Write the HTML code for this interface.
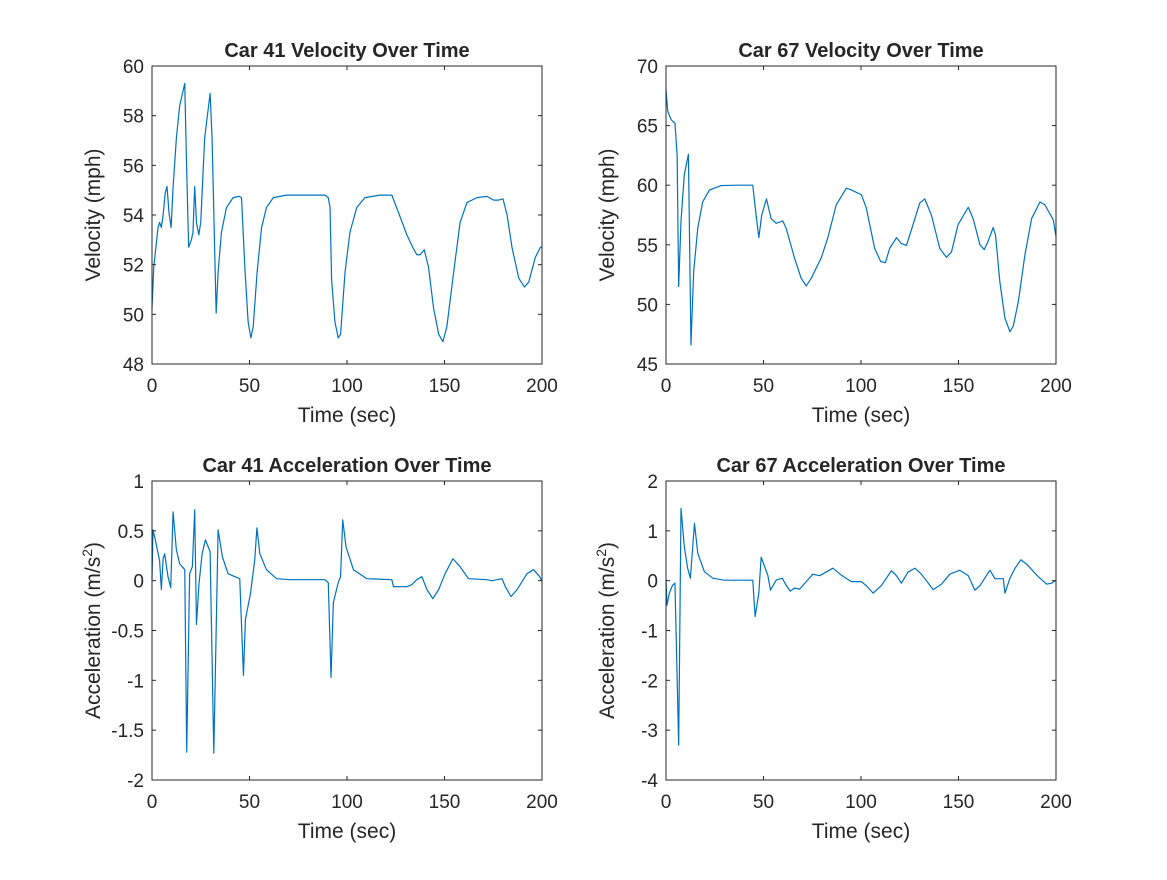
<!DOCTYPE html>
<html><head><meta charset="utf-8"><style>
html,body{margin:0;padding:0;background:#fff;}
svg text{font-family:"Liberation Sans",Arial,sans-serif;fill:#262626;}
</style></head><body>
<svg id="fig" width="1167" height="875" xmlns="http://www.w3.org/2000/svg"></svg>
<script>
const timeTicks=[0,50,100,150,200];
const v41Ticks=[48,50,52,54,56,58,60];
const v67Ticks=[45,50,55,60,65,70];
const a41Ticks=[-2,-1.5,-1,-0.5,0,0.5,1];
const a67Ticks=[-4,-3,-2,-1,0,1,2];

const v41T=[0,0.9,3.1,3.9,4.8,5.7,6.8,7.7,8.7,9.8,10.8,12.5,14.2,16.8,17.6,18.8,20.2,21,21.9,22.8,24,25,27,29.8,30.8,32.9,33.9,35.6,38.2,41.6,44.7,45.9,47.6,49.3,50.7,51.9,53.9,56.2,58.7,62.2,69,79.3,88.7,90.4,91.3,92.1,93.8,95.5,96.7,99,101.5,105,109.2,117,123,126.4,130.7,133.7,135.8,137.5,139.6,141.8,144.4,147,149.2,151.2,154.7,158,161.5,166.7,171.8,175.2,177.8,180,182.1,184.6,188.1,191,193.2,196.6,199.2,200];
const v41V=[50.25,51.9,53.5,53.7,53.5,54.0,54.9,55.15,54.1,53.5,55.1,57.1,58.4,59.3,56.4,52.7,53.0,53.3,55.15,53.7,53.2,53.7,57.1,58.9,57.1,50.05,51.7,53.3,54.3,54.7,54.75,54.7,51.9,49.7,49.05,49.5,51.7,53.5,54.3,54.7,54.8,54.8,54.8,54.7,54.3,51.4,49.7,49.05,49.2,51.7,53.3,54.3,54.7,54.8,54.8,54.1,53.2,52.7,52.4,52.4,52.6,51.9,50.25,49.2,48.9,49.5,51.7,53.7,54.5,54.7,54.75,54.6,54.6,54.65,54,52.7,51.45,51.1,51.3,52.3,52.7,52.7];

const v67T=[0,0.9,2.6,4.6,5.7,6.5,7.7,9.4,11.5,12.8,14.2,16.3,18.8,22.3,28.3,36.8,44.5,46.2,47.6,49.1,51.5,53.9,56.5,59.9,61.6,65.9,69.3,71.9,74.5,79.6,83,87.3,92.5,95,100.2,102.7,107,110.1,112.5,114.7,118.2,120.7,123.3,126.7,130.1,132.7,136.1,140.4,143.8,146.4,149.8,155,157.5,161,163.2,165.2,167.8,169,171.2,173.8,176.4,178.1,180.7,184.1,187.5,191.8,194.3,198.6,200];
const v67V=[68,66.2,65.5,65.2,62.5,51.5,57,60.9,62.6,46.6,52.8,56.4,58.6,59.6,59.97,60,60,57.5,55.6,57.5,58.85,57.2,56.8,57,56.4,53.9,52.2,51.55,52.2,53.9,55.6,58.35,59.75,59.6,59.2,58.1,54.7,53.6,53.5,54.7,55.6,55.1,54.95,56.7,58.5,58.85,57.5,54.7,53.95,54.4,56.7,58.15,57.2,55,54.6,55.3,56.45,55.8,51.9,48.85,47.7,48.2,50.25,54.2,57.2,58.6,58.35,57.1,55.7];

const a41T=[0,0.5,1.7,3.9,4.8,5.7,6.5,8.2,9.6,10.8,12.5,14.2,16.8,17.8,19.3,20.7,21.9,22.8,24.1,25.7,27.4,29.8,31.7,33.9,36.1,39,42.5,45,46.9,47.9,50.5,52.7,53.8,55.3,58.7,63.9,70.7,88.7,90.4,91.8,93,95.5,96.7,97.8,99.5,103.3,110.1,123,123.8,130.7,133.2,135.8,138.4,141,144,147,150.3,154.3,158,162.3,171.7,174.3,179.5,181.2,184.1,187.2,192.3,195.7,198.8,200];
const a41V=[0.01,0.51,0.41,0.2,-0.09,0.22,0.27,0.04,-0.07,0.69,0.31,0.17,0.11,-1.72,0.07,0.14,0.71,-0.44,-0.03,0.27,0.41,0.29,-1.73,0.51,0.24,0.07,0.04,0.02,-0.95,-0.39,-0.13,0.21,0.53,0.27,0.11,0.02,0.01,0.01,-0.02,-0.97,-0.22,-0.02,0.04,0.61,0.34,0.11,0.02,0.01,-0.06,-0.06,-0.04,0.01,0.04,-0.09,-0.18,-0.09,0.07,0.22,0.14,0.02,0.01,0,0.02,-0.06,-0.16,-0.09,0.07,0.11,0.04,-0.01];

const a67T=[0,0.5,1.7,3.4,4.6,6.5,7.7,9.4,11.1,12.5,14.6,16.3,19.7,24,30,44.5,45.7,47.6,48.8,52.2,53.6,56.5,59.6,61.6,63.7,65.9,68.5,71.9,75.3,78.8,85.6,89.9,95,100.2,102.7,106.2,110.4,115.6,118.2,120.7,124.1,127.6,131,137,141.3,145.5,150.7,155,158.4,161,166.1,168.7,173,173.8,176.4,179,182,185,190.9,195.2,197.8,200];
const a67V=[0.01,-0.49,-0.25,-0.09,-0.05,-3.3,1.45,0.68,0.25,0.05,1.15,0.55,0.18,0.05,0.01,0.01,-0.72,-0.25,0.47,0.11,-0.19,0.01,0.05,-0.09,-0.21,-0.15,-0.17,-0.02,0.13,0.1,0.25,0.11,-0.02,-0.02,-0.1,-0.25,-0.1,0.2,0.1,-0.05,0.17,0.25,0.13,-0.18,-0.07,0.13,0.21,0.1,-0.19,-0.1,0.21,0.04,0.04,-0.25,0.05,0.25,0.42,0.33,0.08,-0.07,-0.05,0.01];

const NS='http://www.w3.org/2000/svg';
const fig=document.getElementById('fig');
function mk(tag,attrs,parent){const e=document.createElementNS(NS,tag);for(const k in attrs)e.setAttribute(k,attrs[k]);parent.appendChild(e);return e;}

function panel(id,box,yMin,yMax,yTicks,title,ylabel,ts,vs,sup){
  const [L,T,R,B]=box;
  const g=mk('g',{},fig);
  
  
  const xs=t=>L+(t-0)/(200-0)*(R-L);
  const ys=v=>B-(v-yMin)/(yMax-yMin)*(B-T);
  // line
  let d='';
  for(let i=0;i<ts.length;i++){d+=(i?'L':'M')+xs(ts[i]).toFixed(2)+','+ys(vs[i]).toFixed(2);}
  const p=mk('path',{d:d,fill:'none',stroke:'#0072BD','stroke-width':1.2,'stroke-linejoin':'round'},g);
  
  
  // box
  const r=mk('rect',{x:L,y:T,width:R-L,height:B-T,fill:'none',stroke:'#262626','stroke-width':1},g);
  
  
  // x ticks
  timeTicks.forEach(t=>{
    const x=xs(t);
    mk('line',{x1:x,y1:B,x2:x,y2:B-4,stroke:'#262626'},g);
    mk('line',{x1:x,y1:T,x2:x,y2:T+4,stroke:'#262626'},g);
    const tx=mk('text',{x:x,y:B+28,'text-anchor':'middle','font-size':19},g);
    tx.textContent=t;
    
    
  });
  yTicks.forEach(v=>{
    const y=ys(v);
    mk('line',{x1:L,y1:y,x2:L+4,y2:y,stroke:'#262626'},g);
    mk('line',{x1:R,y1:y,x2:R-4,y2:y,stroke:'#262626'},g);
    const tx=mk('text',{x:L-8,y:y+7,'text-anchor':'end','font-size':19},g);
    tx.textContent=v;
    
    
  });
  const ti=mk('text',{x:(L+R)/2,y:T-9,'text-anchor':'middle','font-size':20,'font-weight':'bold'},g);
  ti.textContent=title;
  
  
  const xl=mk('text',{x:(L+R)/2,y:B+58,'text-anchor':'middle','font-size':21},g);
  xl.textContent='Time (sec)';
  
  
  const yl=mk('text',{x:0,y:0,'text-anchor':'middle','font-size':21,transform:'translate('+(L-52)+','+((T+B)/2)+') rotate(-90)'},g);
  
  
  if(sup){
    yl.appendChild(document.createTextNode('Acceleration (m/s'));
    const s=mk('tspan',{dy:-8,'font-size':14},yl);s.textContent='2';
    const s2=mk('tspan',{dy:8},yl);s2.textContent=')';
  } else yl.textContent=ylabel;
}
panel('car41-velocity',[152,66,542,364],48,60,v41Ticks,'Car 41 Velocity Over Time','Velocity (mph)',v41T,v41V,false);
panel('car67-velocity',[666,66,1056,364],45,70,v67Ticks,'Car 67 Velocity Over Time','Velocity (mph)',v67T,v67V,false);
panel('car41-acceleration',[152,481,542,780],-2,1,a41Ticks,'Car 41 Acceleration Over Time','',a41T,a41V,true);
panel('car67-acceleration',[666,481,1056,780],-4,2,a67Ticks,'Car 67 Acceleration Over Time','',a67T,a67V,true);
</script>
</body></html>
